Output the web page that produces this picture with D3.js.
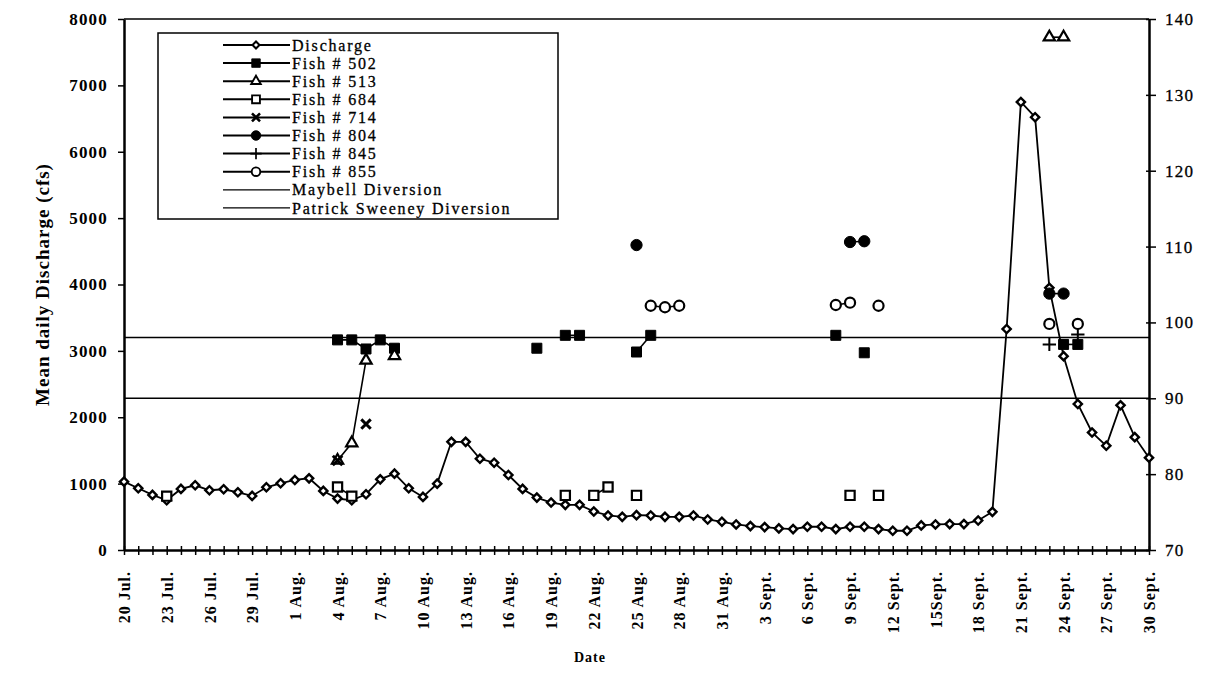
<!DOCTYPE html>
<html>
<head>
<meta charset="utf-8">
<script src="https://cdn.jsdelivr.net/npm/d3@7"></script>
<style>
  body { margin: 0; background: #fff; }
  svg { display: block; font-family: "Liberation Serif", "Times New Roman", serif; }
</style>
</head>
<body>
<svg id="chart" width="1213" height="675"></svg>
<script>
// mean daily discharge (cfs), one value per day from 20 Jul to 30 Sept
var discharge = [
  1030, 930, 830, 750, 920, 975, 900, 915, 870, 815,
  945, 1005, 1055, 1080, 890, 775, 750, 840, 1065, 1150,
  930, 800, 1000, 1630, 1630, 1375, 1315, 1130, 920, 790,
  715, 680, 680, 580, 520, 500, 525, 520, 500, 500,
  520, 460, 425, 385, 360, 345, 325, 315, 350, 350,
  315, 350, 350, 315, 290, 290, 370, 385, 390, 390,
  445, 575, 3330, 6750, 6520, 3950, 2920, 2200, 1770, 1570,
  2180, 1700, 1390
];

// fish locations (right axis), day index counted from 20 Jul
var fish502Days = [15, 16, 17, 18, 19, 29, 31, 32, 36, 37, 50, 52, 66, 67];
var fish502Vals = [97.7, 97.7, 96.5, 97.7, 96.6, 96.6, 98.3, 98.3, 96.1, 98.3, 98.3, 96.0, 97.1, 97.1];
var fish513Days = [15, 16, 17, 19, 65, 66];
var fish513Vals = [81.8, 84.1, 95.0, 95.6, 137.6, 137.6];
var fish684Days = [3, 15, 16, 31, 33, 34, 36, 51, 53];
var fish684Vals = [77.1, 78.3, 77.1, 77.2, 77.2, 78.3, 77.2, 77.2, 77.2];
var fish714Days = [15, 17];
var fish714Vals = [81.8, 86.6];
var fish804Days = [36, 51, 52, 65, 66];
var fish804Vals = [110.2, 110.6, 110.7, 103.8, 103.8];
var fish845Days = [65, 67];
var fish845Vals = [97.1, 98.4];
var fish855Days = [37, 38, 39, 50, 51, 53, 65, 67];
var fish855Vals = [102.2, 102.0, 102.2, 102.3, 102.6, 102.2, 99.8, 99.8];

var maybellDiversion = 98;
var patrickDiversion = 90;

var dateLabels = ['20 Jul.', '23 Jul.', '26 Jul.', '29 Jul.', '1 Aug.', '4 Aug.', '7 Aug.',
  '10 Aug.', '13 Aug.', '16 Aug.', '19 Aug.', '22 Aug.', '25 Aug.', '28 Aug.', '31 Aug.',
  '3 Sept.', '6 Sept.', '9 Sept.', '12 Sept.', '15Sept.', '18 Sept.', '21 Sept.',
  '24 Sept.', '27 Sept.', '30 Sept.'];
var leftTicks = [0, 1000, 2000, 3000, 4000, 5000, 6000, 7000, 8000];
var rightTicks = [70, 80, 90, 100, 110, 120, 130, 140];

var legendLabels = ['Discharge', 'Fish # 502', 'Fish # 513', 'Fish # 684', 'Fish # 714',
  'Fish # 804', 'Fish # 845', 'Fish # 855', 'Maybell Diversion', 'Patrick Sweeney Diversion'];

var svg = d3.select('#chart');

var x = d3.scaleLinear().domain([0, discharge.length - 1]).range([124, 1149]);
var yL = d3.scaleLinear().domain([0, 8000]).range([550, 19]);
var yR = d3.scaleLinear().domain([70, 140]).range([550, 19]);

// marker shapes
var markers = {
  discharge: { path: d3.symbol(d3.symbolSquare, 34)(), rot: 45, fill: '#fff', sw: 2.4 },
  f502: { path: d3.symbol(d3.symbolSquare, 100)(), rot: 0, fill: '#000', sw: 1 },
  f513: { path: d3.symbol(d3.symbolTriangle, 55)(), rot: 0, fill: '#fff', sw: 2.2 },
  f684: { path: d3.symbol(d3.symbolSquare, 85)(), rot: 0, fill: '#fff', sw: 2.2 },
  f714: { path: d3.symbol(d3.symbolTimes, 60)(), rot: 0, fill: 'none', sw: 3 },
  f804: { path: d3.symbol(d3.symbolCircle, 100)(), rot: 0, fill: '#000', sw: 1 },
  f845: { path: d3.symbol(d3.symbolPlus, 60)(), rot: 0, fill: 'none', sw: 2 },
  f855: { path: d3.symbol(d3.symbolCircle, 80)(), rot: 0, fill: '#fff', sw: 2.2 }
};

var fishSeries = [
  { key: 'f502', days: fish502Days, vals: fish502Vals },
  { key: 'f513', days: fish513Days, vals: fish513Vals },
  { key: 'f684', days: fish684Days, vals: fish684Vals },
  { key: 'f714', days: fish714Days, vals: fish714Vals },
  { key: 'f804', days: fish804Days, vals: fish804Vals },
  { key: 'f845', days: fish845Days, vals: fish845Vals },
  { key: 'f855', days: fish855Days, vals: fish855Vals }
];

// plot frame top line
svg.append('line')
  .attr('x1', x(0)).attr('x2', x(72)).attr('y1', yL(8000)).attr('y2', yL(8000))
  .attr('stroke', '#000').attr('stroke-width', 1.5);

// diversion lines
[maybellDiversion, patrickDiversion].forEach(function(v){
  svg.append('line')
    .attr('x1', x(0)).attr('x2', x(72)).attr('y1', yR(v)).attr('y2', yR(v))
    .attr('stroke', '#000').attr('stroke-width', 1.5);
});

// left axis
var gL = svg.append('g').attr('transform', 'translate(' + x(0) + ',0)')
  .call(d3.axisLeft(yL).tickValues(leftTicks).tickSize(6).tickSizeOuter(0).tickPadding(10).tickFormat(d3.format('d')));
gL.select('.domain').attr('stroke-width', 2.5);
gL.selectAll('.tick line').attr('stroke-width', 1.5);
gL.selectAll('text').attr('font-size', 17).attr('font-weight', 'bold')
  .attr('letter-spacing', 1.2).attr('font-family', 'Liberation Serif');

// right axis
var gR = svg.append('g').attr('transform', 'translate(' + x(72) + ',0)')
  .call(d3.axisRight(yR).tickValues(rightTicks).tickSize(7).tickSizeOuter(0).tickPadding(9));
gR.select('.domain').attr('stroke-width', 2.5);
gR.selectAll('.tick line').attr('stroke-width', 1.5).attr('x1', -3);
gR.selectAll('text').attr('font-size', 17).attr('letter-spacing', 1.2)
  .attr('stroke', '#000').attr('stroke-width', 0.3)
  .attr('font-family', 'Liberation Serif');

// bottom axis: a tick each day, a label every third day
var gB = svg.append('g').attr('transform', 'translate(0,' + yL(0) + ')')
  .call(d3.axisBottom(x).tickValues(d3.range(0, 73)).tickSize(5).tickSizeOuter(0)
    .tickFormat(function(d){ return d % 3 === 0 ? dateLabels[d / 3] : ''; }));
gB.select('.domain').attr('stroke-width', 2.5);
gB.selectAll('.tick line').attr('y1', -4).attr('stroke-width', 1.5);
gB.selectAll('text')
  .attr('transform', 'rotate(-90)')
  .attr('x', -21).attr('y', 0).attr('dy', '0.35em')
  .attr('text-anchor', 'end')
  .attr('font-size', 16).attr('font-weight', 'bold').attr('letter-spacing', 1)
  .attr('font-family', 'Liberation Serif');

// axis titles
svg.append('text')
  .attr('transform', 'translate(42,' + ((yL(0) + yL(8000)) / 2) + ') rotate(-90)')
  .attr('text-anchor', 'middle').attr('dy', '0.35em')
  .attr('font-size', 19).attr('font-weight', 'bold').attr('letter-spacing', 1)
  .text('Mean daily Discharge (cfs)');

svg.append('text')
  .attr('x', 590).attr('y', 662).attr('text-anchor', 'middle')
  .attr('font-size', 14).attr('font-weight', 'bold').attr('letter-spacing', 1)
  .text('Date');

// discharge line
var lineL = d3.line().x(function(d, i){ return x(i); }).y(function(d){ return yL(d); });
svg.append('path').datum(discharge)
  .attr('d', lineL).attr('fill', 'none').attr('stroke', '#000').attr('stroke-width', 1.8);

// fish lines: join only consecutive days
function runs(days, vals){
  var out = [], cur = [];
  days.forEach(function(d, i){
    if (cur.length && d - cur[cur.length - 1][0] > 1) { out.push(cur); cur = []; }
    cur.push([d, vals[i]]);
  });
  if (cur.length) out.push(cur);
  return out.filter(function(r){ return r.length > 1; });
}
var lineR = d3.line().x(function(d){ return x(d[0]); }).y(function(d){ return yR(d[1]); });

fishSeries.forEach(function(s){
  svg.append('g').selectAll('path').data(runs(s.days, s.vals)).enter().append('path')
    .attr('d', lineR).attr('fill', 'none').attr('stroke', '#000').attr('stroke-width', 1.6);
});

function drawMarker(sel, key, scale){
  var m = markers[key];
  sel.append('path')
    .attr('d', m.path)
    .attr('fill', m.fill)
    .attr('stroke', '#000')
    .attr('stroke-width', m.sw)
    .attr('transform', function(){
      var t = d3.select(this.parentNode).attr('data-t');
      return t + (scale ? ' scale(' + scale + ')' : '') + (m.rot ? ' rotate(' + m.rot + ')' : '');
    });
}

// discharge markers
svg.append('g').selectAll('g').data(discharge).enter().append('g')
  .attr('data-t', function(d, i){ return 'translate(' + x(i) + ',' + yL(d) + ')'; })
  .each(function(){ drawMarker(d3.select(this), 'discharge'); });

// fish markers
fishSeries.forEach(function(s){
  svg.append('g').selectAll('g').data(s.days).enter().append('g')
    .attr('data-t', function(d, i){ return 'translate(' + x(d) + ',' + yR(s.vals[i]) + ')'; })
    .each(function(){ drawMarker(d3.select(this), s.key); });
});

// legend
var legend = svg.append('g');
legend.append('rect')
  .attr('x', 158).attr('y', 33).attr('width', 400).attr('height', 186)
  .attr('fill', '#fff').attr('stroke', '#000').attr('stroke-width', 1.5);

var legendKeys = ['discharge', 'f502', 'f513', 'f684', 'f714', 'f804', 'f845', 'f855', null, null];
var rows = legend.selectAll('g.row').data(legendLabels).enter().append('g')
  .attr('class', 'row')
  .attr('transform', function(d, i){ return 'translate(0,' + (45 + i * 18.1) + ')'; });

rows.append('line')
  .attr('x1', 223).attr('x2', 290).attr('y1', 0).attr('y2', 0)
  .attr('stroke', '#000')
  .attr('stroke-width', function(d, i){ return legendKeys[i] ? 2 : 1.2; });

rows.each(function(d, i){
  if (!legendKeys[i]) return;
  var g = d3.select(this).append('g').attr('data-t', 'translate(256,0)');
  drawMarker(g, legendKeys[i], 0.85);
});

rows.append('text')
  .attr('x', 292).attr('y', 0).attr('dy', '0.35em')
  .attr('font-size', 16).attr('letter-spacing', 1.8)
  .attr('stroke', '#000').attr('stroke-width', 0.3)
  .text(function(d){ return d; });
</script>
</body>
</html>
